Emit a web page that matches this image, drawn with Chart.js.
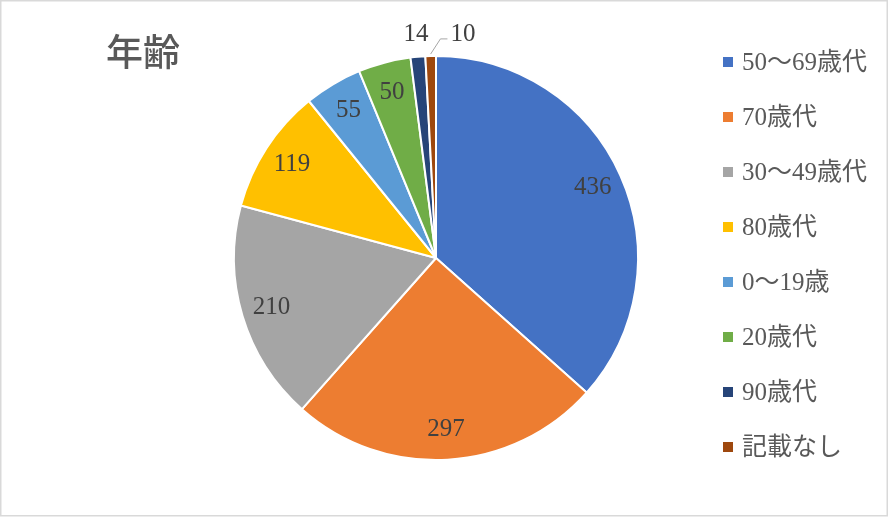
<!DOCTYPE html>
<html>
<head>
<meta charset="utf-8">
<script src="https://cdn.jsdelivr.net/npm/chart.js@4/dist/chart.umd.min.js"></script>
<style>
  html, body { margin: 0; padding: 0; background: #ffffff; }
  #wrap { width: 889px; height: 518px; position: relative; }
</style>
</head>
<body>
<div id="wrap"><canvas id="c" width="889" height="518"></canvas></div>
<script>
const title = "年齢";
const categories = ["50～69歳代", "70歳代", "30～49歳代", "80歳代", "0～19歳", "20歳代", "90歳代", "記載なし"];
const values = [436, 297, 210, 119, 55, 50, 14, 10];
const colors = ["#4472C4", "#ED7D31", "#A5A5A5", "#FFC000", "#5B9BD5", "#70AD47", "#264478", "#9E480E"];

const SERIF = '"Liberation Serif", "DejaVu Serif", "Noto Sans CJK JP", serif';

const decorPlugin = {
  id: 'decor',
  beforeDraw(chart) {
    const ctx = chart.ctx;
    ctx.save();
    ctx.fillStyle = '#ffffff';
    ctx.fillRect(0, 0, chart.width, chart.height);
    ctx.strokeStyle = '#d9d9d9';
    ctx.lineWidth = 1.5;
    ctx.strokeRect(0.75, 0.75, chart.width - 2.5, chart.height - 3);
    ctx.restore();
  },
  afterDraw(chart) {
    const ctx = chart.ctx;
    ctx.save();
    // title
    ctx.fillStyle = '#595959';
    ctx.font = '500 37px "Noto Sans CJK JP", sans-serif';
    ctx.textBaseline = 'middle';
    ctx.textAlign = 'left';
    ctx.fillText(title, 106, 52);
    // legend
    const labels = chart.data.labels;
    const bg = chart.data.datasets[0].backgroundColor;
    ctx.font = '25px ' + SERIF;
    for (let i = 0; i < labels.length; i++) {
      const y = 62 + i * 55;
      ctx.fillStyle = bg[i];
      ctx.fillRect(723, y - 5, 10, 10);
      ctx.fillStyle = '#595959';
      ctx.fillText(labels[i], 742, y + 1);
    }
    ctx.restore();
  }
};

const labelPlugin = {
  id: 'valueLabels',
  afterDatasetsDraw(chart) {
    const ctx = chart.ctx;
    const meta = chart.getDatasetMeta(0);
    const data = chart.data.datasets[0].data;
    const total = data.reduce((a, b) => a + b, 0);
    ctx.save();
    ctx.font = '25px ' + SERIF;
    ctx.fillStyle = '#404040';
    ctx.textAlign = 'center';
    ctx.textBaseline = 'middle';
    let prevOutside = null;
    meta.data.forEach((arc, i) => {
      const p = arc.getProps(['x', 'y', 'startAngle', 'endAngle', 'outerRadius'], true);
      const mid = (p.startAngle + p.endAngle) / 2;
      const txt = String(data[i]);
      const w = ctx.measureText(txt).width;
      if (data[i] / total > 0.02) {
        const d = p.outerRadius * 0.85;
        ctx.fillText(txt, p.x + Math.cos(mid) * d, p.y + Math.sin(mid) * d);
      } else {
        const d = p.outerRadius + 22;
        let lx = p.x + Math.cos(mid) * d;
        let ly = p.y + Math.sin(mid) * d;
        let shifted = false;
        if (prevOutside && lx - w / 2 < prevOutside.x + prevOutside.w / 2 + 22) {
          lx = prevOutside.x + prevOutside.w / 2 + 22 + w / 2;
          ly = prevOutside.y;
          shifted = true;
        }
        ctx.fillText(txt, lx, ly);
        if (shifted) {
          const ex = p.x + Math.cos(mid) * (p.outerRadius + 2);
          const ey = p.y + Math.sin(mid) * (p.outerRadius + 2);
          ctx.beginPath();
          ctx.strokeStyle = '#a6a6a6';
          ctx.lineWidth = 1;
          ctx.moveTo(lx - w / 2 - 3, ly + 4);
          ctx.lineTo(lx - w / 2 - 10, ly + 4);
          ctx.lineTo(ex, ey);
          ctx.stroke();
        }
        prevOutside = { x: lx, y: ly, w: w };
      }
    });
    ctx.restore();
  }
};

new Chart(document.getElementById('c'), {
  type: 'pie',
  data: {
    labels: categories,
    datasets: [{
      data: values,
      backgroundColor: colors,
      borderColor: '#ffffff',
      borderWidth: 2
    }]
  },
  options: {
    responsive: false,
    animation: false,
    devicePixelRatio: 1,
    events: [],
    layout: { padding: { left: 233, right: 250, top: 55, bottom: 57 } },
    plugins: {
      legend: { display: false },
      tooltip: { enabled: false },
      title: { display: false }
    }
  },
  plugins: [decorPlugin, labelPlugin]
});
</script>
</body>
</html>
